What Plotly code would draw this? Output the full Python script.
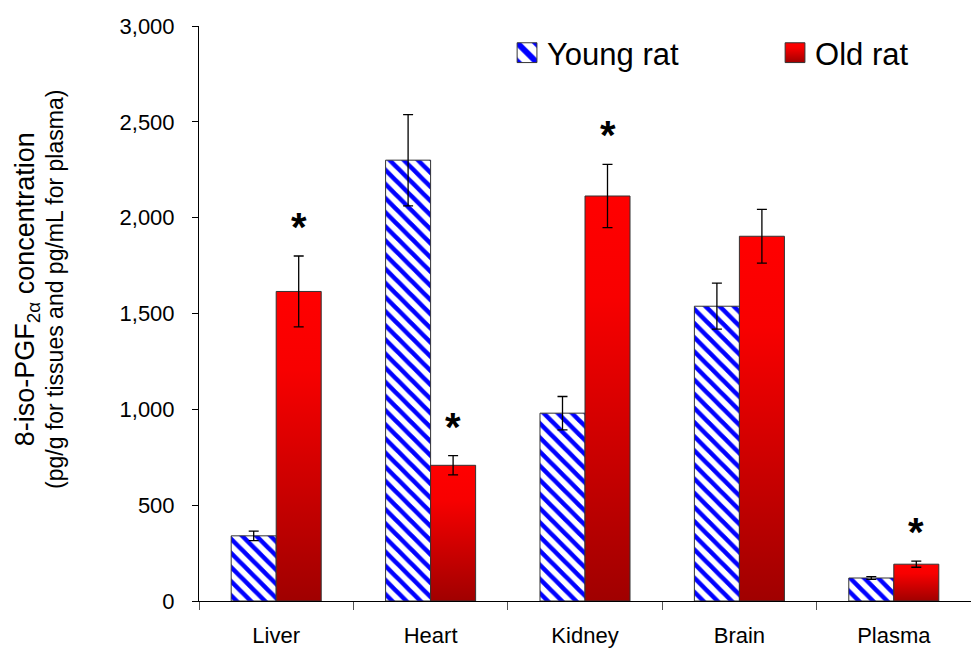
import plotly.graph_objects as go

categories = ["Liver", "Heart", "Kidney", "Brain", "Plasma"]
young_values = [340, 2300, 980, 1538, 120]
young_errors = [25, 238, 87, 120, 7]
old_values = [1615, 708, 2113, 1903, 192]
old_errors = [185, 50, 165, 140, 16]
significant = ["Liver", "Heart", "Kidney", "Plasma"]
y_ticks = [0, 500, 1000, 1500, 2000, 2500, 3000]

FONT = "Arial, Liberation Sans, sans-serif"

fig = go.Figure()
fig.add_trace(go.Bar(
    name="Young rat", x=categories, y=young_values,
    error_y=dict(type="data", array=young_errors, color="black", thickness=1.3, width=5),
    marker=dict(color="white", line=dict(color="#333333", width=1),
                pattern=dict(shape="\\", fgcolor="#0000ff", bgcolor="white", fgopacity=1,
                             size=10, solidity=0.45, fillmode="replace")),
))
fig.add_trace(go.Bar(
    name="Old rat", x=categories, y=old_values,
    error_y=dict(type="data", array=old_errors, color="black", thickness=1.3, width=5),
    marker=dict(color="#d00000", line=dict(color="#333333", width=1)),
))

old_map = dict(zip(categories, zip(old_values, old_errors)))
for c in significant:
    v, e = old_map[c]
    fig.add_annotation(x=c, y=v + e, xref="x", yref="y", text="<b>*</b>", showarrow=False,
                       xshift=22.5, yshift=5, yanchor="bottom",
                       font=dict(family=FONT, size=40, color="black"))

# y-axis title as rotated annotation
fig.add_annotation(
    xref="paper", yref="paper", x=0, y=0.541, xshift=-160, xanchor="center", yanchor="middle",
    textangle=-90, showarrow=False,
    text=("<span style='font-size:27px'>8-iso-PGF<sub>2α</sub> concentration</span><br>"
          "<span style='font-size:23px'>(pg/g for tissues and pg/mL for plasma)</span>"),
    font=dict(family=FONT, size=22, color="black"),
)

fig.update_layout(
    width=971, height=649,
    margin=dict(l=199, r=0, t=26, b=48, autoexpand=False),
    plot_bgcolor="white", paper_bgcolor="white",
    barmode="group", bargap=0.417, bargroupgap=0,
    font=dict(family=FONT, size=22, color="black"),
    legend=dict(orientation="h", x=0.399, y=0.953, xanchor="left", yanchor="middle",
                font=dict(size=31, family=FONT), entrywidth=223, entrywidthmode="pixels",
                bgcolor="rgba(0,0,0,0)"),
    showlegend=True,
)
fig.update_xaxes(
    showline=True, linecolor="black", linewidth=1,
    ticks="outside", tickson="boundaries", ticklen=8, tickcolor="#555555",
    tickfont=dict(size=22, family=FONT), ticklabelstandoff=15,
    showgrid=False, zeroline=False, automargin=False,
)
fig.update_yaxes(
    range=[0, 3000], tickvals=y_ticks, tickformat=",d",
    showline=True, linecolor="black", linewidth=1,
    ticks="outside", ticklen=6, tickcolor="black",
    tickfont=dict(size=22, family=FONT), ticklabelstandoff=13,
    showgrid=False, zeroline=False, automargin=False,
)

post = r"""
document.body.style.margin = '0';
document.body.style.padding = '0';
var gd = document.getElementById('{plot_id}');
var NS = 'http://www.w3.org/2000/svg';
function ensureGrad(){
  var svg = gd.querySelector('.main-svg');
  if (!svg) return;
  if (document.getElementById('redgrad')) return;
  var defs = svg.querySelector('defs');
  if (!defs) { defs = document.createElementNS(NS,'defs'); svg.insertBefore(defs, svg.firstChild); }
  var lg = document.createElementNS(NS,'linearGradient');
  lg.setAttribute('id','redgrad');
  lg.setAttribute('x1','0'); lg.setAttribute('y1','0'); lg.setAttribute('x2','0'); lg.setAttribute('y2','1');
  var stops = [['0%','#ff0000'],['25%','#f80000'],['100%','#a00000']];
  stops.forEach(function(s){
    var st = document.createElementNS(NS,'stop');
    st.setAttribute('offset', s[0]); st.setAttribute('stop-color', s[1]);
    lg.appendChild(st);
  });
  defs.appendChild(lg);
}
function apply(){
  ensureGrad();
  var traces = gd.querySelectorAll('.barlayer .trace.bars');
  if (traces.length > 1) {
    traces[1].querySelectorAll('path').forEach(function(p){ p.style.fill = 'url(#redgrad)'; });
  }
  var items = gd.querySelectorAll('.legend .traces');
  items.forEach(function(it, i){
    it.querySelectorAll('.legendpoints path').forEach(function(p){
      if (!p.getAttribute('data-scaled')) {
        var t = p.getAttribute('transform') || '';
        p.setAttribute('transform', t + ' scale(1.65)');
        p.setAttribute('data-scaled','1');
        p.style.strokeWidth = '0.6px';
      }
      if (i === 1) p.style.fill = 'url(#redgrad)';
    });
  });
}
apply();
gd.on('plotly_afterplot', apply);
"""

fig.write_html("out.html", post_script=post, config={"displayModeBar": False})
